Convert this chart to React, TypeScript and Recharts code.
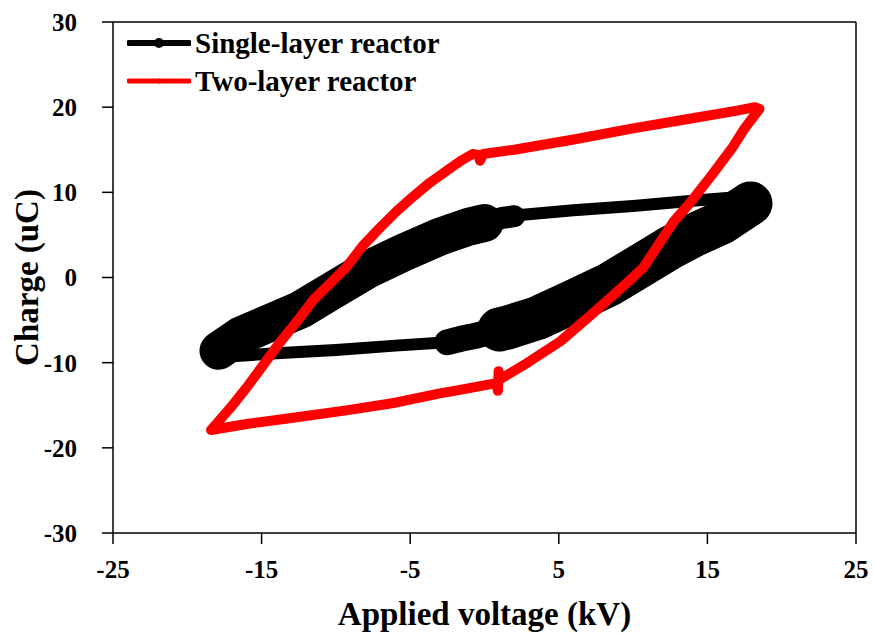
import { ReferenceLine, Scatter, ScatterChart, XAxis, YAxis, Label } from "recharts";

const FONT = '"Liberation Serif", "Times New Roman", serif';

// Two-layer reactor: loop traced counter-clockwise from the bottom-left corner
const twoLayerVoltage = [
  -18.4, -17.1, -16.0, -14.9, -13.8, -12.6, -11.5, -10.4, -9.3, -8.2, -7.0, -5.9, -4.8, -3.7, -2.5, -1.5, -0.8,
  -0.4, -0.3, -0.1, 2.0, 6.0, 10.0, 14.0, 17.0, 18.2, 18.5,
  17.5, 16.7, 15.2, 13.8, 12.7, 10.7, 9.6, 7.3, 5.1, 2.9, 1.0, 0.95, 0.9, 0.8,
  -1.65, -3.0, -6.0, -9.3, -13.0, -16.0, -18.4,
];
const twoLayerCharge = [
  -17.9, -15.3, -12.9, -10.3, -7.7, -5.1, -2.6, -0.7, 1.2, 3.7, 5.9, 7.8, 9.5, 11.1, 12.6, 13.8, 14.5,
  14.4, 13.7, 14.5, 15.0, 16.2, 17.5, 18.7, 19.6, 20.0, 19.8,
  17.5, 15.3, 11.8, 8.7, 6.5, 1.2, -0.6, -4.2, -7.5, -10.0, -12.0, -11.0, -13.3, -12.4,
  -13.2, -13.6, -14.7, -15.6, -16.5, -17.2, -17.9,
];

// Single-layer reactor: full loop centre line
const singleVoltage = [
  -18.2, -16.4, -14.4, -12.4, -10.2, -7.9, -5.5, -3.0, -1.0, 0.4, 2.2, 6.0, 10.0, 14.0, 18.2,
  16.0, 14.0, 12.5, 10.5, 8.4, 6.0, 3.5, 1.5, -0.5, -2.5, -6.0, -10.0, -14.0, -18.2,
];
const singleCharge = [
  -8.6, -6.8, -5.3, -3.8, -1.5, 0.9, 2.9, 4.8, 6.0, 6.6, 7.3, 7.9, 8.4, 9.0, 9.6,
  6.5, 4.9, 3.5, 1.4, -0.8, -2.8, -4.8, -5.9, -6.8, -7.6, -8.0, -8.5, -8.9, -9.4,
];

// noisy (thick) parts of the single-layer trace
const upperBandVoltage = [-17.9, -16.4, -14.4, -12.4, -10.2, -7.9, -5.5, -3.0, -1.0, 0.0];
const upperBandCharge = [-8.6, -6.8, -5.3, -3.8, -1.5, 0.9, 2.9, 4.8, 6.0, 6.4];
const upperTipVoltage = [-1.0, 0.4, 1.2, 2.0];
const upperTipCharge = [6.0, 6.6, 7.0, 7.2];
const lowerBandVoltage = [17.9, 16.0, 14.0, 12.5, 10.5, 8.4, 6.0, 3.5, 1.5, 1.0];
const lowerBandCharge = [8.7, 6.5, 4.9, 3.5, 1.4, -0.8, -2.8, -4.8, -5.9, -6.1];
const lowerTipVoltage = [1.5, -0.5, -1.6, -2.5];
const lowerTipCharge = [-5.9, -6.8, -7.2, -7.6];

const xTicks = [-25, -15, -5, 5, 15, 25];
const yTicks = [-30, -20, -10, 0, 10, 20, 30];

const toPoints = (xs: number[], ys: number[]) => xs.map((x, i) => ({ x, y: ys[i] }));

const twoLayer = toPoints(twoLayerVoltage, twoLayerCharge);
const singleLayer = toPoints(singleVoltage, singleCharge);
const upperBand = toPoints(upperBandVoltage, upperBandCharge);
const upperTip = toPoints(upperTipVoltage, upperTipCharge);
const lowerBand = toPoints(lowerBandVoltage, lowerBandCharge);
const lowerTip = toPoints(lowerTipVoltage, lowerTipCharge);

const noDot = () => <g />;

const tickStyle = { fill: "#000", fontSize: 25, fontWeight: 700, fontFamily: FONT };

const band = (width: number) => ({
  stroke: "#000",
  strokeWidth: width,
  strokeLinecap: "round" as const,
  strokeLinejoin: "round" as const,
});

export default function App() {
  return (
    <div style={{ position: "absolute", left: 0, top: 0, width: 874, height: 633, background: "#fff" }}>
      <ScatterChart width={874} height={633} margin={{ top: 22, right: 18, left: 0, bottom: 0 }}>
        <XAxis
          type="number"
          dataKey="x"
          domain={[-25, 25]}
          ticks={xTicks}
          interval={0}
          height={100}
          tickSize={11}
          tickMargin={16}
          tick={tickStyle}
          axisLine={{ stroke: "#000", strokeWidth: 1.5 }}
          tickLine={{ stroke: "#000", strokeWidth: 1.5 }}
        >
          <Label
            value="Applied voltage (kV)"
            position="insideBottom"
            offset={8}
            style={{ fill: "#000", fontSize: 33, fontWeight: 700, fontFamily: FONT }}
          />
        </XAxis>
        <YAxis
          type="number"
          dataKey="y"
          domain={[-30, 30]}
          ticks={yTicks}
          interval={0}
          width={113}
          tickSize={11}
          tickMargin={25}
          tick={tickStyle}
          axisLine={{ stroke: "#000", strokeWidth: 1.5 }}
          tickLine={{ stroke: "#000", strokeWidth: 1.5 }}
        >
          <Label
            value="Charge (uC)"
            angle={-90}
            position="insideLeft"
            offset={26}
            style={{ fill: "#000", fontSize: 33, fontWeight: 700, fontFamily: FONT, textAnchor: "middle" }}
          />
        </YAxis>
        <ReferenceLine y={30} stroke="#000" strokeWidth={1.5} />
        <ReferenceLine x={25} stroke="#000" strokeWidth={1.5} />

        <Scatter name="Single-layer reactor" data={singleLayer} line={band(12)} shape={noDot} isAnimationActive={false} />
        <Scatter data={upperBand} line={band(38)} shape={noDot} legendType="none" isAnimationActive={false} />
        <Scatter data={upperTip} line={band(22)} shape={noDot} legendType="none" isAnimationActive={false} />
        <Scatter data={lowerBand} line={band(44)} shape={noDot} legendType="none" isAnimationActive={false} />
        <Scatter data={lowerTip} line={band(26)} shape={noDot} legendType="none" isAnimationActive={false} />
        <Scatter
          name="Two-layer reactor"
          data={twoLayer}
          line={{ stroke: "#ff0000", strokeWidth: 10, strokeLinejoin: "round", strokeLinecap: "round" }}
          shape={noDot}
          isAnimationActive={false}
        />
      </ScatterChart>

      <div
        style={{
          position: "absolute",
          left: 127,
          top: 24,
          fontFamily: FONT,
          fontWeight: 700,
          fontSize: 29,
          color: "#000",
          lineHeight: "38px",
        }}
      >
        <div style={{ display: "flex", alignItems: "center", height: 38 }}>
          <svg width={64} height={14} style={{ marginRight: 4 }}>
            <line x1={2} y1={7} x2={62} y2={7} stroke="#000" strokeWidth={6} strokeLinecap="round" />
            <circle cx={32} cy={7} r={5} fill="#000" />
          </svg>
          <span>Single-layer reactor</span>
        </div>
        <div style={{ display: "flex", alignItems: "center", height: 38 }}>
          <svg width={64} height={14} style={{ marginRight: 4 }}>
            <line x1={2} y1={7} x2={62} y2={7} stroke="#ff0000" strokeWidth={5} strokeLinecap="round" />
            <circle cx={32} cy={7} r={2.5} fill="#ff0000" />
          </svg>
          <span>Two-layer reactor</span>
        </div>
      </div>
    </div>
  );
}
